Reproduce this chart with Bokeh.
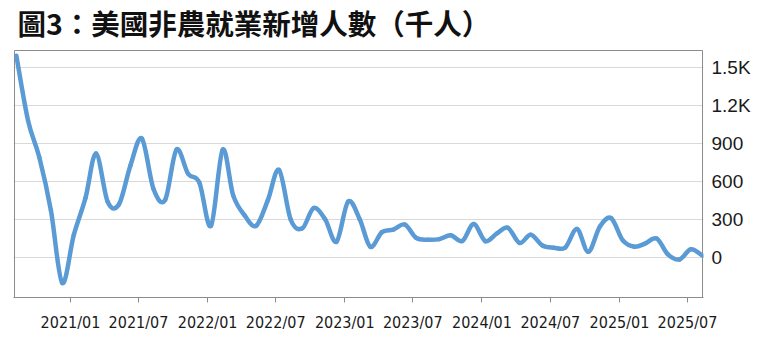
import pandas as pd
import numpy as np
from bokeh.plotting import figure
from bokeh.models import Range1d, FixedTicker, DatetimeTickFormatter, Label
from bokeh.embed import file_html
from bokeh.resources import INLINE

# ---- data (thousands of jobs, monthly change) ----
first_month = "2020-08"
last_month = "2025-08"
payrolls = [
    1590, 1080, 790, 370, -200,                                   # 2020 Aug-Dec
    180, 470, 820, 440, 420, 730, 937, 540, 455, 850, 660, 590,   # 2021
    250, 850, 490, 330, 250, 450, 690, 300, 230, 390, 300, 125,   # 2022
    440, 300, 85, 200, 220, 260, 155, 140, 145, 175, 130, 265,    # 2023
    130, 190, 235, 115, 180, 95, 78, 80, 225, 45, 245, 310,       # 2024
    135, 85, 110, 150, 25, -15, 65, 15,                           # 2025 Jan-Aug
]
x_tick_labels = ["2021/01", "2021/07", "2022/01", "2022/07", "2023/01",
                 "2023/07", "2024/01", "2024/07", "2025/01", "2025/07"]
y_ticks = [0, 300, 600, 900, 1200, 1500]
y_tick_labels = ["0", "300", "600", "900", "1.2K", "1.5K"]
title_text = "圖3：美國非農就業新增人數（千人）"

# ---- layout constants ----
W, H = 760, 343
plot_left, plot_right, plot_top, plot_bottom = 14, 702, 50, 297   # data box in pixels
y_min, y_max = -315, 1632

# ---- positions ----
months = pd.date_range(first_month, last_month, freq="MS") + pd.Timedelta(days=9)
xs = np.array([m.timestamp() * 1000.0 for m in months])
ys = np.array(payrolls, dtype=float)
day_ms = 86400000.0
x_start, x_end = xs[0] - 5 * day_ms, xs[-1]

# Catmull-Rom -> cubic Bezier control points for a smoothed line
xp = np.concatenate([[xs[0]], xs, [xs[-1]]])
yp = np.concatenate([[ys[0]], ys, [ys[-1]]])
n = len(xs)
x0, y0 = xs[:-1], ys[:-1]
x1, y1 = xs[1:], ys[1:]
cx0 = xp[1:n] + (xp[2:n + 1] - xp[0:n - 1]) / 6.0
cy0 = yp[1:n] + (yp[2:n + 1] - yp[0:n - 1]) / 6.0
cx1 = xp[2:n + 1] - (xp[3:n + 2] - xp[1:n]) / 6.0
cy1 = yp[2:n + 1] - (yp[3:n + 2] - yp[1:n]) / 6.0

tick_ms = [pd.Timestamp(l.replace("/", "-") + "-01").timestamp() * 1000.0 for l in x_tick_labels]

# frame extended upward to hold the title, and 1px wider so the box border is not clipped
ms_per_px = (x_end - x_start) / (plot_right - plot_left)
val_per_px = (y_max - y_min) / (plot_bottom - plot_top)
x_range = Range1d(x_start - ms_per_px, x_end + ms_per_px)
y_range = Range1d(y_min, y_max + plot_top * val_per_px)

p = figure(width=W, height=H, x_axis_type="datetime", x_range=x_range, y_range=y_range,
           y_axis_location="right", output_backend="svg", toolbar_location=None,
           min_border_left=plot_left - 1, min_border_right=W - plot_right - 1,
           min_border_bottom=H - plot_bottom, min_border_top=0)

p.background_fill_color = "white"
p.border_fill_color = "white"
p.outline_line_color = None

p.xgrid.visible = False
p.ygrid.grid_line_color = "#d9d9d9"
p.ygrid.grid_line_width = 1

# data box border
p.quad(left=[x_start], right=[x_end], bottom=[y_min], top=[y_max],
       fill_color=None, line_color="#8c8c8c", line_width=1)

ya = p.yaxis[0]
ya.ticker = FixedTicker(ticks=y_ticks)
ya.major_label_overrides = {t: l for t, l in zip(y_ticks, y_tick_labels)}
ya.axis_line_color = None
ya.major_tick_line_color = None
ya.minor_tick_line_color = None
ya.major_tick_out = 0
ya.major_tick_in = 0
ya.major_label_standoff = 8
ya.major_label_text_font = "Liberation Sans"
ya.major_label_text_font_size = "19px"
ya.major_label_text_color = "#1a1a1a"

xa = p.xaxis[0]
xa.ticker = FixedTicker(ticks=tick_ms)
fmt = "%Y/%m"
xa.formatter = DatetimeTickFormatter(years=fmt, months=fmt, days=fmt, hours=fmt,
                                     minutes=fmt, seconds=fmt, milliseconds=fmt,
                                     microseconds=fmt, hourmin=fmt, minsec=fmt)
xa.axis_line_color = "#8c8c8c"
xa.major_tick_line_color = "#8c8c8c"
xa.major_tick_out = 5
xa.major_tick_in = 0
xa.minor_tick_line_color = None
xa.major_label_standoff = 10
xa.major_label_text_font = "DejaVu Sans Condensed"
xa.major_label_text_font_size = "16px"
xa.major_label_text_color = "#1a1a1a"

p.bezier(x0=x0, y0=y0, x1=x1, y1=y1, cx0=cx0, cy0=cy0, cx1=cx1, cy1=cy1,
         line_color="#5b9bd5", line_width=4.5, line_cap="round", line_join="round")

# title, anchored at the top-left corner of the data box
p.add_layout(Label(x=x_start, y=y_max, x_offset=3, y_offset=28, text=title_text,
                   text_font="Noto Sans CJK TC", text_font_size="28.5px",
                   text_font_style="bold", text_color="#111111",
                   text_baseline="middle", text_align="left"))

open("out.html", "w").write(file_html(p, INLINE))
